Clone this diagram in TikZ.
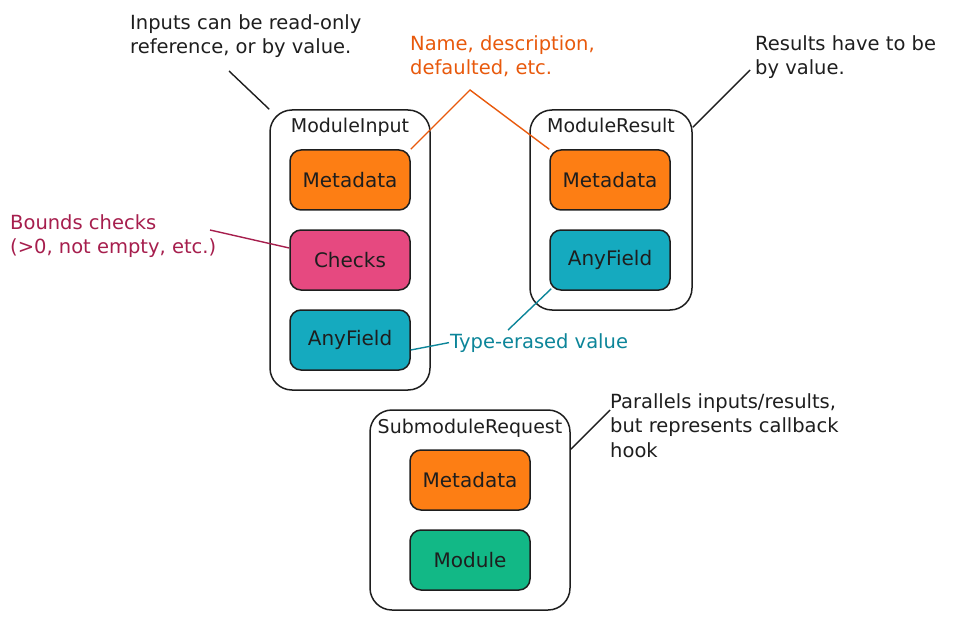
\documentclass[tikz,border=0pt]{standalone}
\usepackage{fontspec}
\setmainfont{DejaVu Sans}
\usetikzlibrary{calc}
\definecolor{orangeF}{HTML}{FD7E14}
\definecolor{pinkF}{HTML}{E64980}
\definecolor{cyanF}{HTML}{15AABF}
\definecolor{greenF}{HTML}{12B886}
\definecolor{orangeT}{HTML}{E8590C}
\definecolor{crimsonT}{HTML}{A61E4D}
\definecolor{tealT}{HTML}{0C8599}
\definecolor{ink}{HTML}{1E1E1E}
\begin{document}
\begin{tikzpicture}[x=1pt,y=-1pt,
  outerbox/.style={draw=ink, line width=1.5pt, rounded corners=22pt, inner sep=0pt},
  field/.style={draw=ink, line width=1.5pt, rounded corners=11pt, fill=#1,
    minimum width=120pt, minimum height=60pt, inner sep=0pt,
    font=\fontsize{20}{24}\selectfont, text=ink},
  boxtitle/.style={inner sep=0pt, anchor=base, font=\fontsize{19}{23}\selectfont, text=ink},
  note/.style={inner sep=0pt, align=left, font=\fontsize{19.5}{24.5}\selectfont, text=#1},
  link/.style={draw=#1, line width=1.4pt}
]
\useasboundingbox (0,0) rectangle (957,620);

% outer boxes
\node[outerbox, minimum width=160pt, minimum height=280pt] (inBox) at (350,250) {};
\node[outerbox, minimum width=162pt, minimum height=200pt] (resBox) at (611,210) {};
\node[outerbox, minimum width=200pt, minimum height=200pt] (subBox) at (470,510) {};

% titles
\node[boxtitle] (inTitle) at (350,133) {ModuleInput};
\node[boxtitle] (resTitle) at (611,133) {ModuleResult};
\node[boxtitle] (subTitle) at (470,433) {SubmoduleRequest};

% fields
\node[field=orangeF] (inMeta) at (350,180) {Metadata};
\node[field=pinkF] (checks) at (350,260) {Checks};
\node[field=cyanF] (inAny) at (350,340) {AnyField};
\node[field=orangeF] (resMeta) at (610,180) {Metadata};
\node[field=cyanF] (resAny) at (610,260) {AnyField};
\node[field=orangeF] (subMeta) at (470,480) {Metadata};
\node[field=greenF] (subMod) at (470,560) {Module};

% notes
\node[note=ink, anchor=north west] (inNote) at (130,14) {Inputs can be read-only\\reference, or by value.};
\node[note=orangeT, anchor=north west] (metaNote) at (410,35) {Name, description,\\defaulted, etc.};
\node[note=ink, anchor=north west] (resNote) at (755,35) {Results have to be\\by value.};
\node[note=crimsonT, anchor=north west] (chkNote) at (10,214) {Bounds checks\\(>0, not empty, etc.)};
\node[note=tealT, anchor=base west] (typeNote) at (450,348) {Type-erased value};
\node[note=ink, anchor=north west] (subNote) at (610,393) {Parallels inputs/results,\\but represents callback\\hook};

% connector end points
\coordinate (inNoteEnd) at (229,71);
\coordinate (metaApex) at (470,90);
\coordinate (resNoteEnd) at (750,70);
\coordinate (chkNoteEnd) at (210,230);
\coordinate (typeEnd) at (508,330);
\coordinate (subNoteEnd) at (610,410);

% connectors
\draw[link=ink] (inNoteEnd) -- (inBox.north west);
\draw[link=orangeT] (inMeta.north east) -- (metaApex) -- (resMeta.north west);
\draw[link=ink] ([yshift=-18pt]resBox.north east) -- (resNoteEnd);
\draw[link=crimsonT] (chkNoteEnd) -- ([yshift=12pt]checks.west);
\draw[link=tealT] ([yshift=-10pt]inAny.east) -- ([xshift=-1pt]typeNote.west);
\draw[link=tealT] (typeEnd) -- ([xshift=2pt,yshift=2pt]resAny.south west);
\draw[link=ink] ([yshift=-40pt]subBox.north east) -- (subNoteEnd);
\end{tikzpicture}
\end{document}
